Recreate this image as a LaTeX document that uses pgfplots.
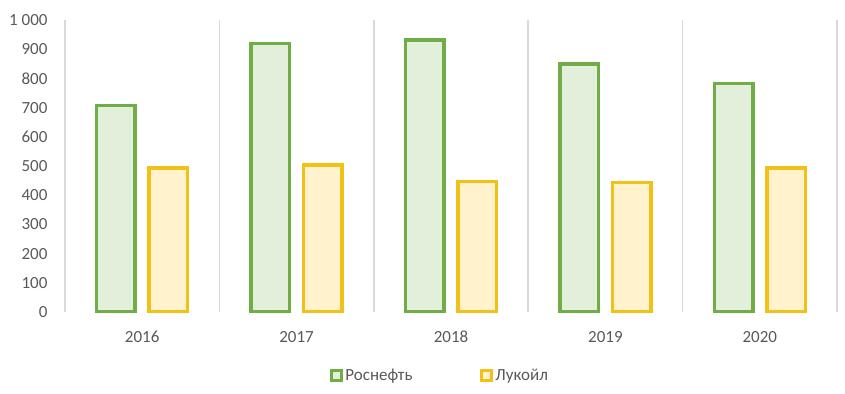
\documentclass[border=0pt]{standalone}
\usepackage{fontspec}
\setmainfont{Carlito}
\usepackage{pgfplots}
\pgfplotsset{compat=1.18}
\definecolor{rosline}{HTML}{70AD47}
\definecolor{rosfill}{HTML}{E2EFDA}
\definecolor{lukline}{HTML}{F2C117}
\definecolor{lukfill}{HTML}{FFF2CC}
\definecolor{gridc}{HTML}{D9D9D9}
\definecolor{txt}{HTML}{595959}
\begin{document}
\begin{tikzpicture}
\path[use as bounding box] (-65bp,-82bp) rectangle (780bp,312bp);
\begin{axis}[
  at={(0,0)}, anchor=south west,
  scale only axis, width=772bp, height=292bp,
  ybar=14bp, bar width=38.5bp,
  xmin=-0.5, xmax=4.5, ymin=0, ymax=1000,
  axis line style={draw=none},
  xtick={0,1,2,3,4}, xticklabels={2016,2017,2018,2019,2020},
  minor xtick={-0.5,0.5,1.5,2.5,3.5,4.5},
  xminorgrids, minor grid style={gridc, line width=1.5bp},
  ytick={0,100,...,1000},
  yticklabels={0,100,200,300,400,500,600,700,800,900,1 000},
  major tick length=0pt, minor tick length=0pt,
  tick label style={font=\fontsize{17bp}{20bp}\selectfont, text=txt},
  yticklabel style={xshift=-14bp},
  xticklabel style={yshift=-16bp, text height=11bp, text depth=0bp},
  legend columns=2,
  legend style={draw=none, at={(axis description cs:0.486,-0.219)}, anchor=center,
    font=\fontsize{17bp}{20bp}\selectfont, text=txt,
    /tikz/every odd column/.append style={column sep=0bp},
    /tikz/every even column/.append style={column sep=66bp}},
  legend image code/.code={\draw[#1, line width=3bp] (-1bp,-5bp) rectangle (9bp,5bp);},
]
\addplot[draw=rosline, fill=rosfill, line width=3.5bp] coordinates {(0,707) (1,919) (2,931) (3,850) (4,782)};
\addplot[draw=lukline, fill=lukfill, line width=3.5bp] coordinates {(0,494) (1,504) (2,447) (3,444) (4,494)};
\legend{Роснефть, Лукойл}
\end{axis}
\end{tikzpicture}
\end{document}
